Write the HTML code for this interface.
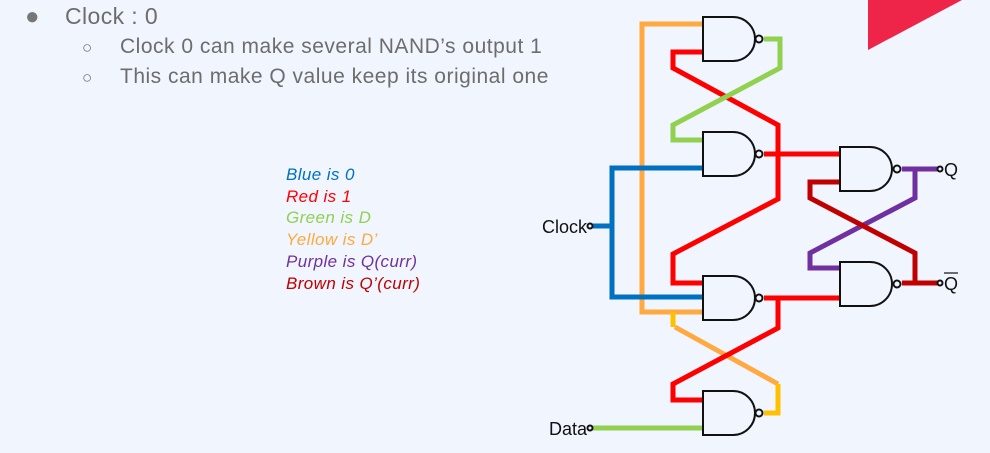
<!DOCTYPE html>
<html><head><meta charset="utf-8"><style>
html,body{margin:0;padding:0;background:#f0f5fe;}
body{width:990px;height:453px;overflow:hidden;position:relative;font-family:"Liberation Sans",sans-serif;}
.t{position:absolute;color:#6d6d6d;white-space:nowrap;}
.lg{position:absolute;left:286px;font-style:italic;font-size:17px;line-height:17px;letter-spacing:0.4px;white-space:nowrap;}
</style></head><body>
<div class="t" style="left:25px;top:3px;font-size:24px;color:#777">●</div>
<div class="t" style="left:65px;top:3px;font-size:23px;letter-spacing:0.4px;">Clock : 0</div>
<div class="t" style="left:82px;top:38px;font-size:17px;">○</div>
<div class="t" style="left:120px;top:35px;font-size:21px;letter-spacing:0.5px;">Clock 0 can make several NAND’s output 1</div>
<div class="t" style="left:82px;top:68px;font-size:17px;">○</div>
<div class="t" style="left:120px;top:65px;font-size:21px;letter-spacing:0.5px;">This can make Q value keep its original one</div>
<div class="lg" style="top:166px;color:#0070c0">Blue is 0</div>
<div class="lg" style="top:188px;color:#ff0000">Red is 1</div>
<div class="lg" style="top:209px;color:#92d050">Green is D</div>
<div class="lg" style="top:231px;color:#ffa940">Yellow is D’</div>
<div class="lg" style="top:253px;color:#7030a0">Purple is Q(curr)</div>
<div class="lg" style="top:275px;color:#c00000">Brown is Q’(curr)</div>
<svg width="990" height="453" style="position:absolute;left:0;top:0" xmlns="http://www.w3.org/2000/svg">
<polygon points="868,0 962,0 868,50" fill="#ee2549"/>
<g fill="none" stroke-width="5" stroke-linejoin="miter">
<polyline stroke="#ffa940" points="703,24 642,24 642,312 703,312"/>
<polyline stroke="#ffa940" points="675,327 778,384"/>
<polyline stroke="#ffc000" points="673,312 673,327"/>
<polyline stroke="#ffc000" points="778,384 778,413 764,413"/>
<polyline stroke="#ff0000" points="703,52 673,52 673,68 778,125 778,199 673,254 673,283 703,283"/>
<polyline stroke="#92d050" points="764,39 780,39 780,68 673,125 673,140 703,140"/>
<polyline stroke="#ff0000" points="764,154 840,154"/>
<polyline stroke="#0070c0" points="703,168 612,168 612,297 703,297"/>
<polyline stroke="#0070c0" points="592,226 612,226"/>
<polyline stroke="#ff0000" points="764,298 840,298"/>
<polyline stroke="#ff0000" points="778,298 778,328 673,384 673,400 703,400"/>
<polyline stroke="#92d050" points="592,428 703,428"/>
<polyline stroke="#7030a0" points="902,169 938,169"/>
<polyline stroke="#7030a0" points="915,169 915,198 810,253 810,268 840,268"/>
<polyline stroke="#c00000" points="840,182 810,182 810,198 915,253 915,283"/>
<polyline stroke="#c00000" points="902,283 938,283"/>
</g>
<g fill="#f0f5fe" stroke="#111" stroke-width="2">
<path d="M703,17 H733 A22,22 0 0 1 733,61 H703 Z"/><circle cx="759" cy="39" r="3.5"/>
<path d="M703,132 H733 A22,22 0 0 1 733,176 H703 Z"/><circle cx="759" cy="154" r="3.5"/>
<path d="M840,147 H870 A22,22 0 0 1 870,191 H840 Z"/><circle cx="897" cy="169" r="3.5"/>
<path d="M840,262 H870 A22,22 0 0 1 870,306 H840 Z"/><circle cx="897" cy="284" r="3.5"/>
<path d="M703,276 H733 A22,22 0 0 1 733,320 H703 Z"/><circle cx="759" cy="298" r="3.5"/>
<path d="M703,391 H733 A22,22 0 0 1 733,435 H703 Z"/><circle cx="759" cy="413" r="3.5"/>
<circle cx="940" cy="169" r="2.5"/><circle cx="940" cy="283" r="2.5"/>
<circle cx="590" cy="226" r="2.5"/><circle cx="590" cy="428" r="2.5"/>
</g>
<g font-family="Liberation Sans,sans-serif" font-size="18" fill="#111">
<text x="944" y="176">Q</text>
<text x="944" y="290">Q</text>
<line x1="944" y1="273" x2="958" y2="273" stroke="#111" stroke-width="1.2"/>
<text x="587" y="233" text-anchor="end">Clock</text>
<text x="587" y="435" text-anchor="end">Data</text>
</g>
</svg>
</body></html>
